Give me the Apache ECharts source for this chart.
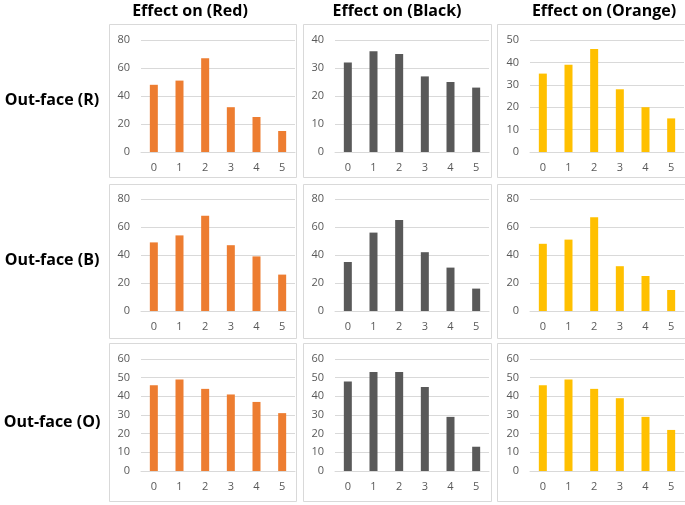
<!DOCTYPE html>
<html>
<head>
<meta charset="utf-8">
<script src="https://cdn.jsdelivr.net/npm/echarts@6/dist/echarts.min.js"></script>
<style>
html,body{margin:0;padding:0;background:#fff;}
#c{width:685px;height:505px;}
</style>
</head>
<body>
<div id="c"></div>
<script>
// ---- data ----
const categories = ['0', '1', '2', '3', '4', '5'];
const colLabels = ['Effect on (Red)', 'Effect on (Black)', 'Effect on (Orange)'];
const rowLabels = ['Out-face (R)', 'Out-face (B)', 'Out-face (O)'];

const outR_onRed    = [48, 51, 67, 32, 25, 15];
const outR_onBlack  = [32, 36, 35, 27, 25, 23];
const outR_onOrange = [35, 39, 46, 28, 20, 15];

const outB_onRed    = [49, 54, 68, 47, 39, 26];
const outB_onBlack  = [35, 56, 65, 42, 31, 16];
const outB_onOrange = [48, 51, 67, 32, 25, 15];

const outO_onRed    = [46, 49, 44, 41, 37, 31];
const outO_onBlack  = [48, 53, 53, 45, 29, 13];
const outO_onOrange = [46, 49, 44, 39, 29, 22];

// y-axis ranges (max, interval) per panel, row by row
const yMaxR = [80, 40, 50];
const yStepR = [20, 10, 10];
const yMaxB = [80, 80, 80];
const yStepB = [20, 20, 20];
const yMaxO = [60, 60, 60];
const yStepO = [10, 10, 10];

// ---- layout / style ----
const colors = ['#ED7D31', '#595959', '#FFC000'];
const panelData = [
  [outR_onRed, outR_onBlack, outR_onOrange],
  [outB_onRed, outB_onBlack, outB_onOrange],
  [outO_onRed, outO_onBlack, outO_onOrange]
];
const yMax = [yMaxR, yMaxB, yMaxO];
const yStep = [yStepR, yStepB, yStepO];

const gridLeft = [141, 335, 530];
const gridWidth = 154;
const gridTop = [40, 199, 359];
const gridHeight = 112;
const panelX = [109, 303, 497];
const panelW = [187, 188, 190];
const panelY = [24, 184, 343];
const panelH = [153, 154, 158];
const colCenter = [190, 397, 604];
const rowCenter = [100, 260, 422];

const grids = [], xAxes = [], yAxes = [], series = [], graphics = [];
const txtColor = '#595959';
const font = '"Open Sans", sans-serif';

for (let r = 0; r < 3; r++) {
  for (let c = 0; c < 3; c++) {
    const i = r * 3 + c;
    graphics.push({
      type: 'rect', z: 0, silent: true,
      shape: { x: panelX[c] + 0.5, y: panelY[r] + 0.5, width: panelW[c], height: panelH[r] },
      style: { fill: '#fff', stroke: '#D9D9D9', lineWidth: 1 }
    });
    grids.push({ left: gridLeft[c], top: gridTop[r], width: gridWidth, height: gridHeight, containLabel: false });
    xAxes.push({
      type: 'category', gridIndex: i, data: categories,
      axisLine: { show: true, lineStyle: { color: '#D9D9D9', width: 1 } },
      axisTick: { show: false },
      axisLabel: { color: txtColor, fontSize: 11, fontFamily: font, margin: 10 },
      splitLine: { show: false }
    });
    yAxes.push({
      type: 'value', gridIndex: i, min: 0, max: yMax[r][c], interval: yStep[r][c],
      axisLine: { show: false }, axisTick: { show: false },
      axisLabel: { color: txtColor, fontSize: 11, fontFamily: font, margin: 11 },
      splitLine: { show: true, lineStyle: { color: '#D9D9D9', width: 1 } }
    });
    series.push({
      type: 'bar', xAxisIndex: i, yAxisIndex: i, data: panelData[r][c],
      barWidth: 8, itemStyle: { color: colors[c] }, silent: true
    });
  }
}

for (let c = 0; c < 3; c++) {
  graphics.push({
    type: 'text', x: colCenter[c], y: 11, z: 10,
    style: { text: colLabels[c], fill: '#000', font: 'bold 16px ' + font, align: 'center', verticalAlign: 'middle' }
  });
}
for (let r = 0; r < 3; r++) {
  graphics.push({
    type: 'text', x: 52, y: rowCenter[r], z: 10,
    style: { text: rowLabels[r], fill: '#000', font: 'bold 16px ' + font, align: 'center', verticalAlign: 'middle' }
  });
}

const chart = echarts.init(document.getElementById('c'), null, { renderer: 'canvas' });
chart.setOption({
  animation: false,
  backgroundColor: '#fff',
  graphic: graphics,
  grid: grids,
  xAxis: xAxes,
  yAxis: yAxes,
  series: series
});
</script>
</body>
</html>
